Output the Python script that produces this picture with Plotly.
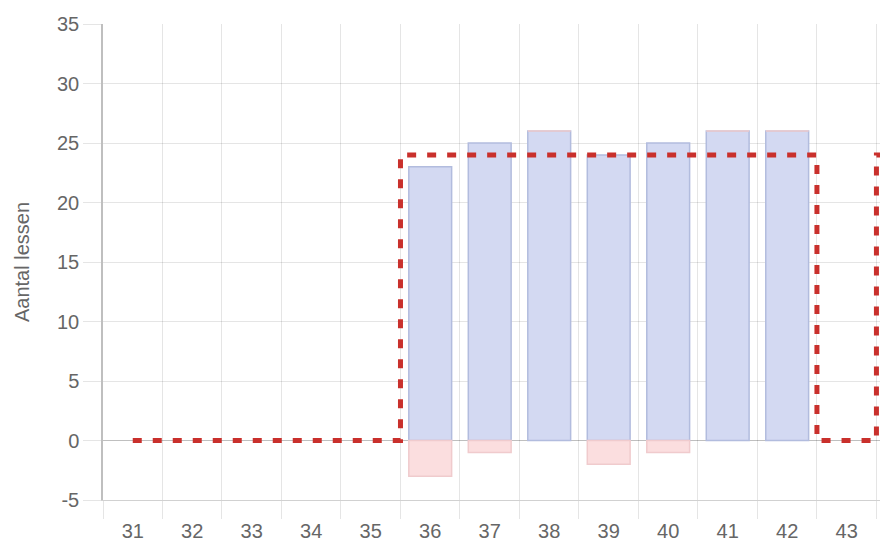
import plotly.graph_objects as go

weeks = ["31", "32", "33", "34", "35", "36", "37", "38", "39", "40", "41", "42", "43"]
line_weeks = weeks + ["44"]
given = [None, None, None, None, None, 23, 25, 26, 24, 25, 26, 26, None]
missed = [None, None, None, None, None, -3, -1, 0, -2, -1, 0, 0, None]
planned = [0, 0, 0, 0, 0, 24, 24, 24, 24, 24, 24, 24, 0, 24]
y_ticks = [-5, 0, 5, 10, 15, 20, 25, 30, 35]

font = "Liberation Sans, Arial, Helvetica, sans-serif"
grid = "rgba(0,0,0,0.1)"
fsize = 20

fig = go.Figure()
fig.add_trace(go.Bar(
    x=weeks, y=given, width=0.72,
    marker=dict(color="rgba(211,217,242,1)", line=dict(color="rgba(178,188,222,1)", width=1.5)),
    showlegend=False, hoverinfo="skip",
))
fig.add_trace(go.Bar(
    x=weeks, y=missed, width=0.72,
    marker=dict(color="rgba(251,222,223,1)", line=dict(color="rgba(240,203,205,1)", width=1.5)),
    showlegend=False, hoverinfo="skip",
))
fig.add_trace(go.Scatter(
    x=line_weeks, y=planned, mode="lines",
    line=dict(shape="hvh", color="#c9302c", width=5, dash="9px,11px"),
    showlegend=False, hoverinfo="skip",
))

fig.update_layout(
    width=880, height=542,
    margin=dict(l=103, r=0, t=24, b=42),
    barmode="relative",
    paper_bgcolor="white", plot_bgcolor="white",
    font=dict(family=font, size=fsize, color="#666"),
)
fig.update_xaxes(
    type="category", categoryorder="array", categoryarray=line_weeks,
    range=[-0.5, 12.56], automargin=False,
    tickson="boundaries", ticks="outside", ticklen=18, tickcolor=grid, tickwidth=1,
    ticklabelstandoff=13,
    showgrid=True, gridcolor=grid, gridwidth=1,
    showline=True, linecolor="rgba(0,0,0,0.18)", linewidth=1,
    tickfont=dict(size=fsize, color="#666"),
    zeroline=False,
)
fig.update_yaxes(
    range=[-5, 35], tickvals=y_ticks, ticktext=[str(v) for v in y_ticks],
    automargin=False,
    ticks="outside", ticklen=18, tickcolor=grid, tickwidth=1,
    showgrid=True, gridcolor=grid, gridwidth=1,
    showline=True, linecolor="rgba(0,0,0,0.25)", linewidth=1.5,
    zeroline=True, zerolinecolor="rgba(0,0,0,0.25)", zerolinewidth=1,
    tickfont=dict(size=fsize, color="#666"),
    title=dict(text="Aantal lessen", font=dict(size=fsize, color="#666"), standoff=22),
)

fig.write_html(
    "out.html",
    config={"displayModeBar": False},
    post_script="document.body.style.margin='0';document.body.style.overflow='hidden';",
)
